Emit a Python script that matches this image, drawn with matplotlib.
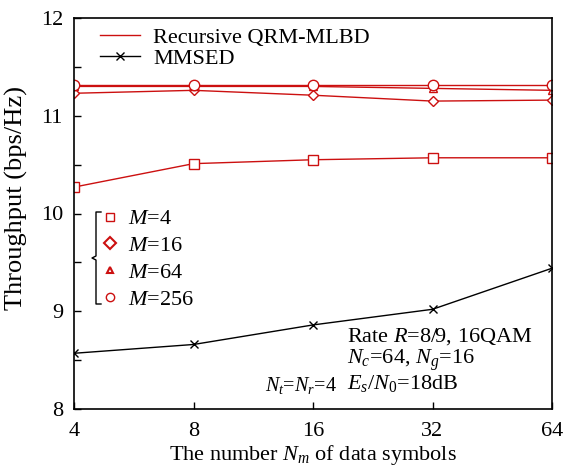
import matplotlib
matplotlib.use("Agg")
import matplotlib.pyplot as plt
from matplotlib.lines import Line2D

plt.rcParams['font.family'] = ['Liberation Serif', 'DejaVu Serif']
plt.rcParams['mathtext.fontset'] = 'custom'
plt.rcParams['mathtext.rm'] = 'Liberation Serif'
plt.rcParams['mathtext.it'] = 'Liberation Serif:italic'

# data
num_symbols = [4, 8, 16, 32, 64]
qrm_m4 = [10.27, 10.51, 10.55, 10.57, 10.57]
qrm_m16 = [11.23, 11.26, 11.21, 11.15, 11.16]
qrm_m64 = [11.30, 11.30, 11.30, 11.28, 11.26]
qrm_m256 = [11.31, 11.31, 11.31, 11.31, 11.31]
mmsed = [8.57, 8.66, 8.86, 9.02, 9.44]

RED = "#cc1010"
FS = 16

fig = plt.figure(figsize=(5.66, 4.7), dpi=100)
# axes box in pixels: left 74, right 552, top 18, bottom 409
ax = fig.add_axes([74 / 566, 1 - 409 / 470, 478 / 566, 391 / 470])

ax.plot(num_symbols, qrm_m4, color=RED, lw=1, marker="s", ms=7, mfc="white", mec=RED)
ax.plot(num_symbols, qrm_m16, color=RED, lw=1, marker="D", ms=5.5, mfc="white", mec=RED)
ax.plot(num_symbols, qrm_m64, color=RED, lw=1, marker="^", ms=6, mfc="white", mec=RED)
ax.plot(num_symbols, qrm_m256, color=RED, lw=1, marker="o", ms=7.5, mfc="white", mec=RED)
ax.plot(num_symbols, mmsed, color="black", lw=1, marker="x", ms=6)

ax.set_xscale("log", base=2)
ax.set_xlim(4, 64)
ax.set_ylim(8, 12)
ax.set_xticks(num_symbols)
ax.set_xticklabels([str(n) for n in num_symbols])
ax.minorticks_off()
ax.set_yticks([8, 9, 10, 11, 12])
ax.set_yticks([8.5, 9.5, 10.5, 11.5], minor=True)
ax.tick_params(direction="in", labelsize=FS, length=5, width=1)
ax.tick_params(axis="y", which="minor", direction="in", length=5, width=1)
ax.tick_params(axis="x", pad=9.5)
ax.tick_params(axis="y", pad=8)
for s in ax.spines.values():
    s.set_linewidth(1.2)

ax.set_xlabel(r"The number $N_m$ of data symbols", fontsize=FS, labelpad=1.5)
ax.set_ylabel("Throughput (bps/Hz)", fontsize=19)
ax.yaxis.set_label_coords(-0.097, 0.54)

# method legend
h1 = [Line2D([], [], color=RED, lw=1),
      Line2D([], [], color="black", lw=1, marker="x", ms=6)]
leg1 = ax.legend(h1, ["Recursive QRM-MLBD", "MMSED"], loc="upper left",
                 bbox_to_anchor=(0.054, 0.977), frameon=False, fontsize=FS,
                 handlelength=1.8, handletextpad=0.6, labelspacing=0.05,
                 borderpad=0, borderaxespad=0)
ax.add_artist(leg1)

# M legend
h2 = [Line2D([], [], ls="none", marker="s", ms=6, mfc="white", mec=RED),
      Line2D([], [], ls="none", marker="D", ms=6, mfc="white", mec=RED, mew=1.5),
      Line2D([], [], ls="none", marker="^", ms=5, mfc="white", mec=RED, mew=1.5),
      Line2D([], [], ls="none", marker="o", ms=6, mfc="white", mec=RED)]
ax.legend(h2, ["$M$=4", "$M$=16", "$M$=64", "$M$=256"], loc="upper left",
          bbox_to_anchor=(0.052, 0.512), frameon=False, fontsize=FS,
          handlelength=1.0, handletextpad=0.3, labelspacing=0.28,
          borderpad=0, borderaxespad=0)


# brace in front of the M legend
def px(x, y):
    return (x - 74) / 478, (409 - y) / 391


brace = [px(101, 212), px(96, 212), px(96, 256), px(92, 258),
         px(96, 260), px(96, 304), px(101, 304)]
ax.plot([p[0] for p in brace], [p[1] for p in brace], color="black", lw=1,
        transform=ax.transAxes, clip_on=False)

ax.text(0.571, 0.125, "Rate $R$=8/9, 16QAM\n$N_c$=64, $N_g$=16\n$E_s$/$N_0$=18dB",
        transform=ax.transAxes, fontsize=FS, va="center", ha="left", linespacing=1.0)
ax.text(0.55, 0.061, "$N_t$=$N_r$=4", transform=ax.transAxes, fontsize=14.5,
        va="center", ha="right")

fig.savefig("out.png", dpi=100)
